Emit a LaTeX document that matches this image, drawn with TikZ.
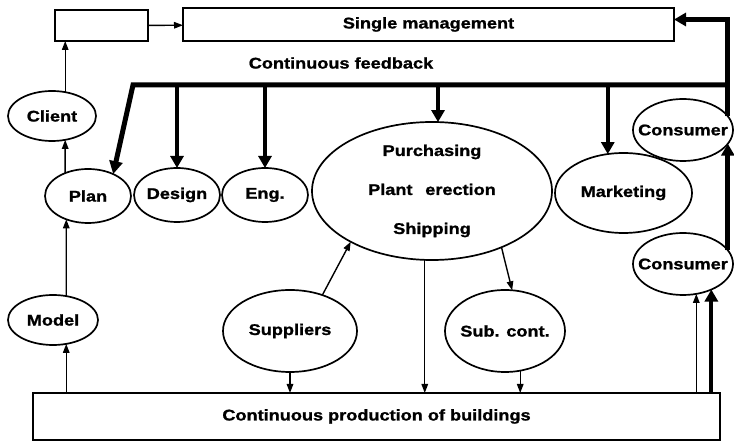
\documentclass[tikz,border=0pt]{standalone}
\usepackage{fontspec}
\setmainfont{Liberation Sans}[FakeStretch=1.17,BoldFeatures={FakeBold=1.2}]
\usetikzlibrary{shapes.geometric,arrows.meta,calc}
\newcommand{\ctext}[1]{\makebox[0pt]{#1}}
\begin{document}
\begin{tikzpicture}[x=1pt,y=-1pt,
  every node/.style={font=\fontsize{15.5}{18}\selectfont\bfseries},
  ell/.style={draw,ellipse,line width=1.7pt,inner sep=0pt,outer sep=0pt},
  boxnode/.style={draw,rectangle,line width=1.7pt,inner sep=0pt,outer sep=0pt},
  thinarr/.style={line width=1.4pt,-{Triangle[length=9pt,width=6.5pt]}},
  thickarr/.style={line width=4pt,-{Triangle[length=12pt,width=13pt]}},
  fbline/.style={line width=5pt,line join=miter}
]
\useasboundingbox (0,0) rectangle (734,443);
% boxes
\node[boxnode,minimum width=93pt,minimum height=31pt] (smallbox) at (101.5,25.5) {};
\node[boxnode,minimum width=491pt,minimum height=33pt] (single) at (428.5,24.5) {Single management};
\node[boxnode,minimum width=687pt,minimum height=47pt] (bottom) at (376.5,416.5) {Continuous production of buildings};
\node (fbtext) at (341,63) {Continuous feedback};
% ellipses
\node[ell,minimum width=88pt,minimum height=50pt] (client) at (52,116) {\ctext{Client}};
\node[ell,minimum width=86pt,minimum height=54pt] (plan) at (88,196) {\ctext{Plan}};
\node[ell,minimum width=86pt,minimum height=54pt] (design) at (177,195) {\ctext{Design}};
\node[ell,minimum width=86pt,minimum height=54pt] (eng) at (265,195) {\ctext{Eng.}};
\node[ell,minimum width=240pt,minimum height=138pt,
  label={[align=center,font=\fontsize{15.5}{18}\selectfont\bfseries]center:Purchasing\\[21pt]Plant\enspace\ erection\\[21pt]Shipping}] (purch) at (432,191) {};
\node[ell,minimum width=137pt,minimum height=80pt] (marketing) at (623.5,193) {\ctext{Marketing}};
\node[ell,minimum width=100pt,minimum height=62pt] (upcons) at (683,130) {\ctext{Consumer}};
\node[ell,minimum width=100pt,minimum height=62pt] (lowcons) at (683,264) {\ctext{Consumer}};
\node[ell,minimum width=90pt,minimum height=50pt] (model) at (53,320) {\ctext{Model}};
\node[ell,minimum width=134pt,minimum height=82pt] (suppliers) at (290,331) {\ctext{Suppliers}};
\node[ell,minimum width=120pt,minimum height=82pt] (subcont) at (505,331) {\ctext{Sub. cont.}};
% coordinates of the feedback bus
\coordinate (fbL) at (133,85);
\coordinate (fbR) at (728,85);
% thin connectors
\draw[thinarr] (smallbox) -- (single);
\draw[thinarr] (client.61.5) -- (client.61.5 |- smallbox.south);
\draw[thinarr] (plan.135) -- (client.-61.5);
\draw[thinarr] (model.61.5) -- (plan.-133.5);
\draw[thinarr] (model.-61.5 |- bottom.north) -- (model.-61.5);
\draw[thinarr] (suppliers.48.4) -- (purch.-148.4);
\draw[thinarr] (purch.-39.9) -- (subcont.80.2);
\draw[thinarr] (purch.-96.6) -- (purch.-96.6 |- bottom.north);
\draw[thinarr] (suppliers.south) -- (suppliers.south |- bottom.north);
\draw[thinarr] (subcont.-69.3) -- (subcont.-69.3 |- bottom.north);
\draw[thinarr] (lowcons.-66.6 |- bottom.north) -- (lowcons.-66.6);
% thick connectors
\draw[fbline,-{Triangle[length=13pt,width=13pt]}] (fbR) -- (fbL) -- (plan.41);
\draw[thickarr] (design.north |- fbL) -- (design.north);
\draw[thickarr] (eng.north |- fbL) -- (eng.north);
\draw[thickarr] (purch.85 |- fbL) -- (purch.85);
\draw[thickarr] (marketing.112 |- fbL) -- (marketing.112);
\draw[fbline,-{Triangle[length=12pt,width=13pt]}] (upcons.17) |- ([yshift=5pt]single.east);
\draw[fbline,-{Triangle[length=12pt,width=13pt]}] (lowcons.17 -| upcons.-17) -- (upcons.-17);
\draw[thickarr] (lowcons.-42.5 |- bottom.north) -- (lowcons.-42.5);
\end{tikzpicture}
\end{document}
